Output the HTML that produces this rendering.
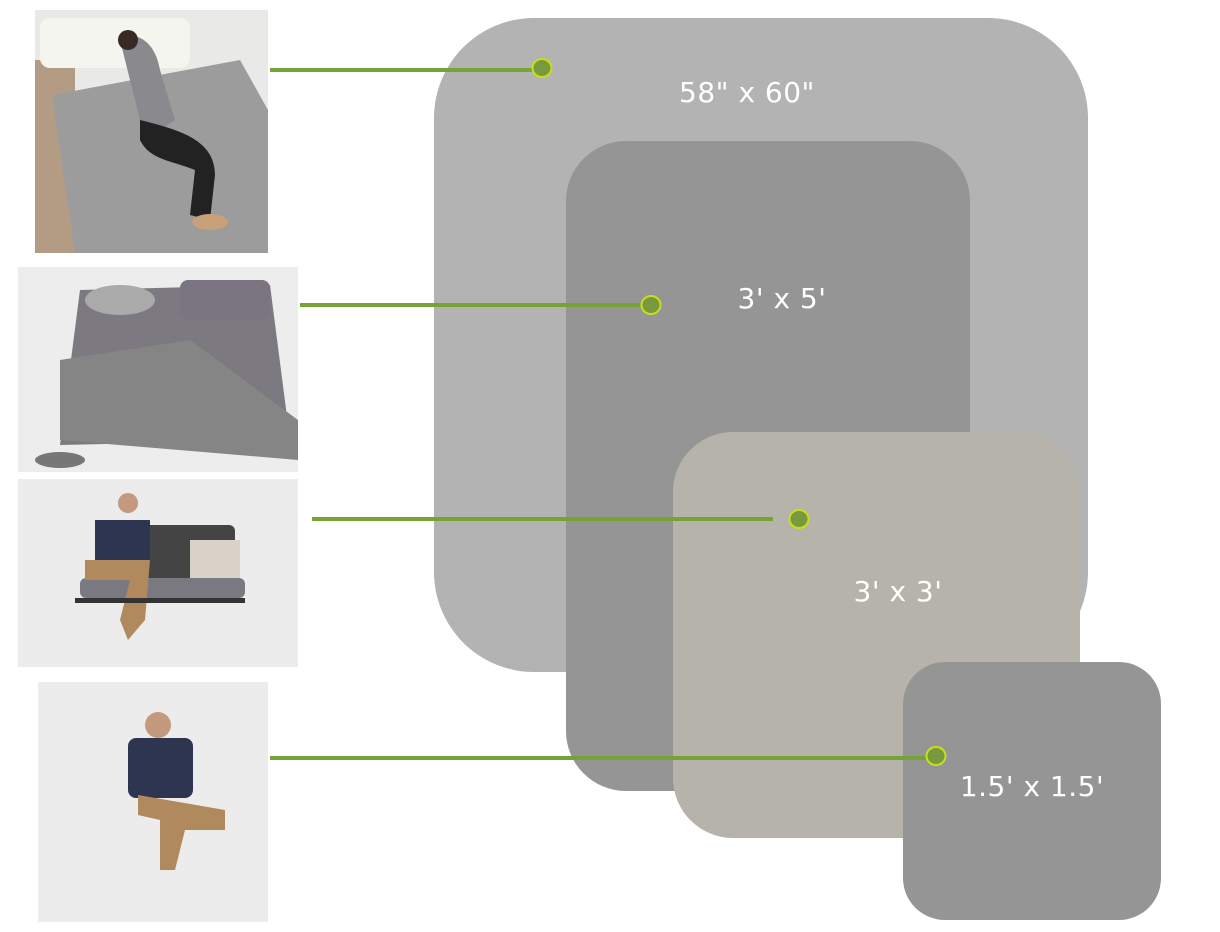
<!DOCTYPE html>
<html><head><meta charset="utf-8"><style>
html,body{margin:0;padding:0;background:#fff;width:1220px;height:932px;overflow:hidden}
svg{display:block}
text{font-family:"DejaVu Sans","Liberation Sans",sans-serif;fill:#fff;font-size:28px;letter-spacing:0.5px}
</style></head><body>
<svg width="1220" height="932" viewBox="0 0 1220 932" xmlns="http://www.w3.org/2000/svg">
<!-- photo 1: bed -->
<rect x="35" y="10" width="233" height="243" fill="#e9e9e7"/>
<rect x="35" y="60" width="40" height="193" fill="#b49c84"/>
<polygon points="52,95 240,60 268,110 268,253 75,253" fill="#9c9c9c"/>
<rect x="40" y="18" width="150" height="50" rx="10" fill="#f5f5f0"/>
<path d="M120,40 C135,30 155,40 160,70 L175,120 L145,140 Z" fill="#8a8a8e"/>
<path d="M140,120 C180,130 215,140 215,175 L210,220 L190,215 L195,170 C170,160 150,160 140,140Z" fill="#222"/>
<ellipse cx="210" cy="222" rx="18" ry="8" fill="#c8a07a"/>
<circle cx="128" cy="40" r="10" fill="#3a2a25"/>
<!-- photo 2 -->
<rect x="18" y="267" width="280" height="205" fill="#ededed"/>
<polygon points="80,290 270,285 290,440 60,445" fill="#7c7a80"/>
<polygon points="60,360 190,340 298,420 298,460 60,440" fill="#858585"/>
<rect x="180" y="280" width="90" height="40" rx="8" fill="#7a7580"/>
<ellipse cx="120" cy="300" rx="35" ry="15" fill="#aaa"/>
<ellipse cx="60" cy="460" rx="25" ry="8" fill="#777"/>
<!-- photo 3 -->
<rect x="18" y="479" width="280" height="188" fill="#ececec"/>
<rect x="110" y="525" width="125" height="60" rx="6" fill="#444"/>
<rect x="190" y="540" width="50" height="40" fill="#d8d2c8"/>
<rect x="80" y="578" width="165" height="20" rx="6" fill="#7a7880"/>
<rect x="95" y="520" width="55" height="45" fill="#2e3550"/>
<circle cx="128" cy="503" r="10" fill="#c49a7e"/>
<path d="M85,560 L150,560 L145,620 L128,640 L120,620 L130,580 L85,580Z" fill="#b08a5c"/>
<rect x="75" y="598" width="170" height="5" fill="#333"/>
<!-- photo 4 -->
<rect x="38" y="682" width="230" height="240" fill="#ececec"/>
<circle cx="158" cy="725" r="13" fill="#c49a7e"/>
<rect x="128" y="738" width="65" height="60" rx="8" fill="#2e3550"/>
<path d="M138,795 L225,810 L225,830 L185,830 L175,870 L160,870 L160,820 L138,815Z" fill="#b08a5c"/>
<!-- size panels -->
<rect x="434" y="18" width="654" height="654" rx="100" fill="#b3b3b3"/>
<rect x="566" y="141" width="404" height="650" rx="60" fill="#959595"/>
<rect x="673" y="432" width="407" height="406" rx="60" fill="#b6b4aa"/>
<rect x="903" y="662" width="258" height="258" rx="42" fill="#959595"/>
<text x="747" y="102" text-anchor="middle">58" x 60"</text>
<text x="782" y="308" text-anchor="middle">3' x 5'</text>
<text x="898" y="601" text-anchor="middle">3' x 3'</text>
<text x="1032" y="796" text-anchor="middle">1.5' x 1.5'</text>
<!-- connectors -->
<g stroke="#76a236" stroke-width="4">
<line x1="270" y1="70" x2="540" y2="70"/>
<line x1="300" y1="305" x2="648" y2="305"/>
<line x1="312" y1="519" x2="773" y2="519"/>
<line x1="270" y1="758" x2="935" y2="758"/>
</g>
<g fill="#789a3c" stroke="#c6de1e" stroke-width="2">
<ellipse cx="542" cy="68" rx="9.5" ry="9"/>
<ellipse cx="651" cy="305" rx="9.5" ry="9"/>
<ellipse cx="799" cy="519" rx="9.5" ry="9"/>
<ellipse cx="936" cy="756" rx="9.5" ry="9"/>
</g>
</svg>
</body></html>
